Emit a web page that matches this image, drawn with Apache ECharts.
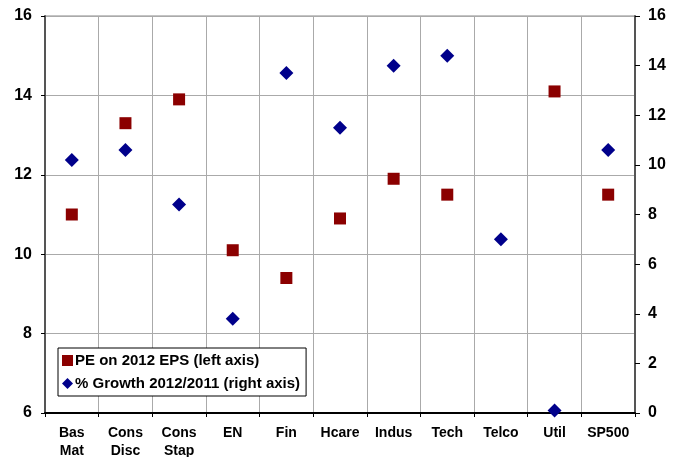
<!DOCTYPE html>
<html><head><meta charset="utf-8">
<script src="https://cdn.jsdelivr.net/npm/echarts@6/dist/echarts.min.js"></script>
<style>html,body{margin:0;padding:0;background:#fff}#c{width:680px;height:457px}</style>
</head><body><div id="c"></div>
<script>
const categories = ['Bas\nMat','Cons\nDisc','Cons\nStap','EN','Fin','Hcare','Indus','Tech','Telco','Util','SP500'];
const peValues = [11.0, 13.3, 13.9, 10.1, 9.4, 10.9, 11.9, 11.5, null, 14.1, 11.5];
const growthValues = [10.2, 10.6, 8.4, 3.8, 13.7, 11.5, 14.0, 14.4, 7.0, 0.1, 10.6];
const leftTicks = {min: 6, max: 16, interval: 2};
const rightTicks = {min: 0, max: 16, interval: 2};
const seriesNames = ['PE on 2012 EPS (left axis)', '% Growth 2012/2011 (right axis)'];

const font = 'Liberation Sans, Arial, sans-serif';
const chart = echarts.init(document.getElementById('c'), null, {renderer: 'canvas'});
chart.setOption({
  animation: false,
  backgroundColor: '#fff',
  grid: {left: 45, right: 45, top: 16, bottom: 44, show: true, borderColor: '#888', borderWidth: 1,
         containLabel: false, outerBoundsMode: 'none'},
  legend: {
    orient: 'vertical', left: 58, top: 348,
    borderColor: '#000', borderWidth: 1, backgroundColor: '#fff',
    padding: [5, 6, 5, 4], itemGap: 8, itemWidth: 11, itemHeight: 11,
    textStyle: {fontFamily: font, fontWeight: 'bold', fontSize: 15, color: '#000', padding: [0, 0, 0, -3]},
    data: [{name: seriesNames[0], icon: 'rect'}, {name: seriesNames[1], icon: 'diamond'}]
  },
  xAxis: {
    type: 'category', data: categories, boundaryGap: true,
    axisLine: {lineStyle: {color: '#000', width: 2}},
    axisTick: {show: true, length: 4, lineStyle: {color: '#000'}},
    splitLine: {show: true, lineStyle: {color: '#aaa', width: 1}},
    axisLabel: {fontFamily: font, fontWeight: 'bold', fontSize: 14, color: '#000', lineHeight: 18, margin: 11, interval: 0}
  },
  yAxis: [
    {type: 'value', position: 'left', min: leftTicks.min, max: leftTicks.max, interval: leftTicks.interval,
     axisLine: {show: true, lineStyle: {color: '#555', width: 2}},
     axisTick: {show: true, length: 4, lineStyle: {color: '#000'}},
     splitLine: {show: true, lineStyle: {color: '#aaa', width: 1}},
     axisLabel: {fontFamily: font, fontWeight: 'bold', fontSize: 16, color: '#000', margin: 13}},
    {type: 'value', position: 'right', min: rightTicks.min, max: rightTicks.max, interval: rightTicks.interval,
     axisLine: {show: true, lineStyle: {color: '#555', width: 2}},
     axisTick: {show: true, length: 5, lineStyle: {color: '#000'}},
     splitLine: {show: false},
     axisLabel: {fontFamily: font, fontWeight: 'bold', fontSize: 16, color: '#000', margin: 13}}
  ],
  series: [
    {name: seriesNames[0], type: 'scatter', yAxisIndex: 0, data: peValues,
     symbol: 'rect', symbolSize: 12, itemStyle: {color: '#8B0000', opacity: 1}},
    {name: seriesNames[1], type: 'scatter', yAxisIndex: 1, data: growthValues,
     symbol: 'diamond', symbolSize: [14, 14], itemStyle: {color: '#00008B', opacity: 1}}
  ]
});
</script></body></html>
